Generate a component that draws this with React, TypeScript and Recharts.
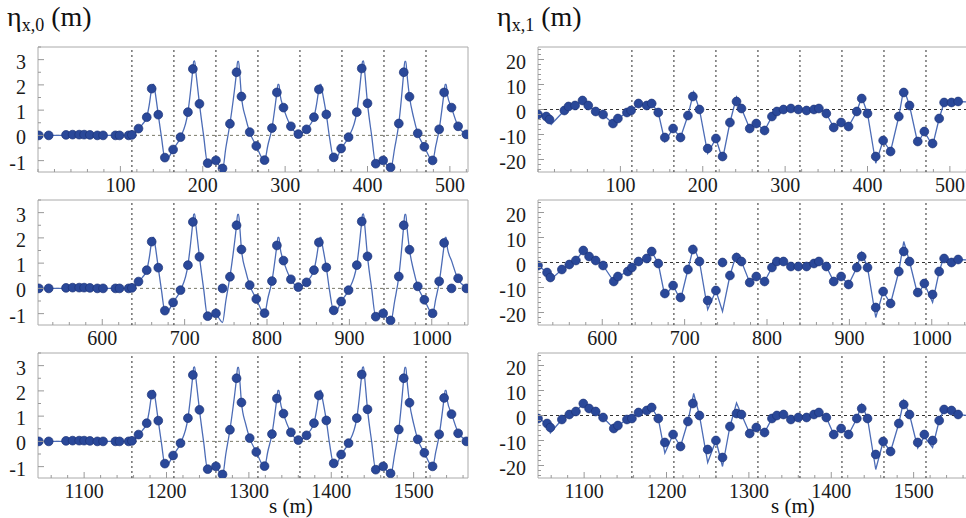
import React from 'react';
import { ComposedChart, Line, Scatter, XAxis, YAxis, ReferenceLine, ReferenceArea } from 'recharts';

type Pair = [number, number];

// ---- data ----
const ROW_START = [0, 522, 1044];
const ROW_SPAN = 522;
const X_TICKS = [
  [100, 200, 300, 400, 500],
  [600, 700, 800, 900, 1000],
  [1100, 1200, 1300, 1400, 1500],
];
const CELL_EDGES = [114, 165, 216, 267, 318, 369, 420, 471];
const ETA0_Y_TICKS = [-1, 0, 1, 2, 3];
const ETA1_Y_TICKS = [-20, -10, 0, 10, 20];
const ETA0_DOMAIN: Pair = [-1.45, 3.5];
const ETA1_DOMAIN: Pair = [-25, 25];

// eta_x,0 measured (points), positions local to each row
const eta0PointsRow1: Pair[] = [
  [1, 0], [13, 0], [34, 0.02], [42, 0.03], [50, 0.03], [56, 0.03], [63, 0.02], [72, 0], [79, 0], [94, 0], [99, 0], [110, 0], [114, 0.02],
  [122, 0.27], [132, 0.72], [138, 1.85], [146, 0.82], [154, -0.88], [164, -0.56], [173, -0.07], [182, 0.92], [188, 2.63], [196, 1.25],
  [206, -1.1], [216, -0.99], [224, -1.31], [233, 0.46], [241, 2.5], [247, 1.54], [257, 0.13], [265, -0.42], [275, -0.98], [284, 0.29],
  [290, 1.7], [298, 1.1], [307, 0.36], [316, 0.05], [326, 0.24], [335, 0.72], [341, 1.82], [350, 0.83], [359, -0.87], [368, -0.52],
  [377, -0.07], [387, 0.92], [393, 2.65], [400, 1.27], [410, -1.12], [419, -0.99], [428, -1.27], [438, 0.47], [444, 2.5], [451, 1.53],
  [461, 0.08], [469, -0.45], [479, -0.99], [487, 0.24], [493, 1.7], [502, 1.1], [510, 0.36], [520, 0.04],
];
const eta0PointsRow2: Pair[] = [
  [1, 0], [13, 0], [34, 0.02], [42, 0.03], [50, 0.03], [56, 0.03], [63, 0.02], [72, 0], [79, 0], [94, 0], [99, 0], [110, 0], [114, 0.02],
  [122, 0.27], [132, 0.72], [138, 1.85], [146, 0.82], [154, -0.88], [164, -0.56], [173, -0.07], [182, 0.92], [188, 2.63], [196, 1.25],
  [206, -1.1], [216, -0.99], [224, 0], [233, 0.46], [241, 2.5], [247, 1.54], [257, 0.13], [265, -0.42], [275, -0.98], [284, 0.29],
  [290, 1.7], [298, 1.1], [307, 0.36], [316, 0.05], [326, 0.24], [335, 0.72], [341, 1.82], [350, 0.83], [359, -0.87], [368, -0.52],
  [377, -0.07], [387, 0.92], [393, 2.65], [400, 1.27], [410, -1.12], [419, -0.99], [428, -1.27], [438, 0.47], [444, 2.5], [451, 1.53],
  [461, 0.08], [469, -0.45], [479, -0.99], [487, 0.28], [493, 1.8], [502, 0], [510, 0.4], [520, 0],
];
const eta0PointsRow3: Pair[] = [
  [1, 0], [13, 0], [34, 0.02], [42, 0.03], [50, 0.03], [56, 0.03], [63, 0.02], [72, 0], [79, 0], [94, 0], [99, 0], [110, 0], [114, 0.02],
  [122, 0.27], [132, 0.72], [138, 1.85], [146, 0.82], [154, -0.88], [164, -0.56], [173, -0.07], [182, 0.92], [188, 2.63], [196, 1.25],
  [206, -1.1], [216, -0.99], [224, -1.31], [233, 0.46], [241, 2.5], [247, 1.54], [257, 0.13], [265, -0.42], [275, -0.98], [284, 0.29],
  [290, 1.7], [298, 1.1], [307, 0.36], [316, 0.05], [326, 0.24], [335, 0.72], [341, 1.82], [350, 0.83], [359, -0.87], [368, -0.52],
  [377, -0.07], [387, 0.92], [393, 2.65], [400, 1.27], [410, -1.12], [419, -0.99], [428, -1.27], [438, 0.47], [444, 2.5], [451, 1.53],
  [461, 0.08], [469, -0.45], [479, -0.99], [487, 0.28], [493, 1.72], [502, 1.08], [510, 0.32], [520, 0],
];
// eta_x,0 model curve
const eta0Model: Pair[] = [
  [0, 0], [114, 0], [118, 0.1], [122, 0.27], [127, 0.45], [132, 0.72], [135, 1.2], [138, 1.85], [139.3, 2.02], [140.5, 2.02], [142, 1.75], [146, 0.82],
  [150, -0.1], [154, -0.9], [157, -0.9], [164, -0.56], [173, -0.07], [182, 0.92], [185, 1.7], [188, 2.63], [189, 2.93], [190.2, 2.95], [191.5, 2.55],
  [196, 1.25], [201, 0], [206, -1.12], [211, -1.1], [216, -0.99], [220, -1.2], [224, -1.35], [228, -0.5], [233, 0.46], [237, 1.4],
  [241, 2.5], [242.3, 2.93], [243.5, 2.93], [245, 2.4], [247, 1.54], [252, 0.7], [257, 0.13], [265, -0.42], [275, -1.0], [279, -0.4], [284, 0.29],
  [290, 1.7], [291.3, 2.02], [292.5, 2.02], [294, 1.6], [298, 1.1], [307, 0.36], [316, 0.05], [322, 0.12],
  [326, 0.27], [331, 0.45], [335, 0.72], [338, 1.2], [341, 1.82], [342.3, 2.02], [343.5, 2.02], [345, 1.75], [350, 0.83], [354, -0.1], [359, -0.9],
  [362, -0.9], [368, -0.52], [377, -0.07], [387, 0.92], [390, 1.7], [393, 2.65], [394, 2.93], [395.2, 2.95], [396.5, 2.55], [400, 1.27], [405, 0],
  [410, -1.12], [415, -1.1], [419, -0.99], [424, -1.2], [428, -1.35], [433, -0.5], [438, 0.47], [441, 1.4], [444, 2.5], [445.3, 2.93], [446.5, 2.93],
  [448, 2.4], [451, 1.53], [456, 0.7], [461, 0.08], [469, -0.45], [479, -1.0], [483, -0.4], [487, 0.24], [493, 1.7], [494.3, 2.02], [495.5, 2.02],
  [497, 1.6], [502, 1.1], [510, 0.36], [520, 0.04], [522, 0],
];

// eta_x,1 measured (points)
const eta1PointsRow1: Pair[] = [
  [0, -2], [10, -2.8], [14, -4], [32, -0.4], [37, 1.2], [45, 1.6], [54, 3.6], [61, 1.6], [70, -0.8], [79, -2], [91, -5.6], [97, -3.6],
  [108, -1.2], [113, -0.4], [122, 2.4], [132, 1.6], [138, 2.4], [146, -1.2], [154, -11.2], [164, -7.6], [173, -11.2], [182, -2.4],
  [188, 5.2], [196, 0], [206, -15.6], [216, -11.6], [224, -18.8], [233, -5.2], [241, 3.2], [247, 0.4], [257, -7.6], [265, -5.6],
  [275, -8.4], [284, -2.8], [290, -0.8], [298, 0], [307, 0.4], [316, 0], [326, -0.4], [335, 0], [341, 0.4], [350, -1.6], [359, -7.2],
  [368, -5.2], [377, -6.8], [387, -0.8], [393, 4.4], [400, -1.6], [410, -18.8], [419, -12.4], [428, -16.8], [438, -2.8], [444, 6.8],
  [451, 1.6], [461, -12.8], [469, -8.8], [479, -13.6], [487, -3.6], [493, 2.8], [502, 2.8], [510, 3.2],
];
const eta1PointsRow2: Pair[] = [
  [0, -1.2], [11, -4], [15, -6], [29, -2.8], [38, -0.8], [46, 0.8], [55, 4.8], [62, 2.4], [70, 0.8], [79, -1.2], [92, -7.6], [97, -5.6],
  [109, -3.6], [114, -2], [122, 0.4], [132, 1.6], [138, 4.4], [146, -0.4], [154, -12.4], [164, -9.2], [173, -14], [182, -2.8],
  [188, 5.2], [196, 0.4], [206, -15.2], [216, -11.2], [224, 0], [233, -5.2], [241, 2], [247, 0.4], [257, -8], [265, -5.6],
  [275, -7.6], [284, -2], [290, 0.4], [298, 0.4], [307, -1.6], [316, -1.6], [326, -1.6], [335, -0.4], [341, 0.4], [350, -1.6],
  [359, -7.6], [368, -5.6], [377, -8.8], [387, -2], [393, 2.4], [400, -2], [410, -18], [419, -11.6], [428, -16.4], [438, -3.6],
  [444, 4.4], [451, 0.4], [461, -12], [469, -8.4], [479, -12.8], [487, -3.6], [493, 1.6], [502, 0], [510, 1.2],
];
const eta1PointsRow3: Pair[] = [
  [0, -1.2], [11, -3.2], [15, -4.8], [29, -1.6], [38, 0.4], [46, 1.6], [55, 4.8], [62, 2.8], [70, 1.6], [79, -0.8], [92, -5.2], [97, -4],
  [108, -1.6], [114, -1.2], [122, 1.2], [132, 2], [138, 3.2], [146, -1.2], [154, -10.8], [164, -7.6], [173, -12.4], [182, -2.4],
  [188, 4.8], [196, 0], [206, -13.6], [216, -10], [224, -16.8], [233, -4.4], [241, 0.8], [247, 0.4], [257, -7.2], [265, -4.8],
  [275, -6.8], [284, -1.2], [290, 0], [298, 0.4], [307, -1.6], [316, -0.8], [326, -0.8], [335, 0.4], [341, 1.2], [350, -0.8],
  [359, -7.6], [368, -5.2], [377, -7.6], [387, -1.2], [393, 2.8], [400, -1.2], [410, -15.6], [419, -10.4], [428, -14.4], [438, -3.2],
  [444, 4.4], [451, 0.4], [461, -10.8], [469, -7.6], [479, -10], [487, -2], [493, 2.4], [502, 2], [510, 0.4],
];
// eta_x,1 model curves
const eta1ModelRow1: Pair[] = [
  [0, -2], [10, -3], [16, -6], [32, -0.4], [37, 1.2], [45, 1.6], [54, 3.6], [61, 1.6], [70, -0.8], [79, -2], [91, -5.6], [97, -3.6],
  [108, -1.2], [114, -0.4], [122, 2.4], [132, 1.6], [138, 2.4], [146, -1.2], [154, -12.8], [164, -7.6], [173, -11.2], [182, -2.4],
  [189, 7], [196, 0], [206, -17.5], [216, -11.6], [224, -20], [233, -5.2], [241, 5], [247, 0.4], [257, -7.6], [265, -5.6], [275, -8.4],
  [284, -2.8], [290, -0.8], [298, 0], [307, 0.4], [316, 0], [326, -0.4], [335, 0], [341, 0.4], [350, -1.6], [359, -7.2], [368, -5.2],
  [377, -6.8], [387, -0.8], [393, 5], [400, -1.6], [410, -21.5], [419, -12.4], [428, -16.8], [438, -2.8], [444, 8.4], [451, 1.6],
  [461, -13.5], [469, -8.8], [479, -14.5], [487, -3.6], [493, 2.8], [502, 2.8], [510, 3.2], [522, 3],
];
const eta1ModelRow2: Pair[] = [
  [0, -1.2], [11, -4], [15, -7], [29, -2.8], [38, -0.8], [46, 0.8], [55, 4.8], [62, 2.4], [70, 0.8], [79, -1.2], [92, -7.6], [97, -5.6],
  [109, -3.6], [114, -2], [122, 0.4], [132, 1.6], [138, 4.4], [146, -0.4], [154, -13.5], [164, -9.2], [173, -15], [182, -2.8],
  [189, 6.5], [196, 0.4], [206, -18.8], [216, -11.2], [224, -19.6], [233, -5.2], [241, 3.5], [247, 0.4], [257, -8], [265, -5.6],
  [275, -7.6], [284, -2], [290, 0.4], [298, 0.4], [307, -1.6], [316, -1.6], [326, -1.6], [335, -0.4], [341, 0.4], [350, -1.6],
  [359, -7.6], [368, -5.6], [377, -8.8], [387, -2], [393, 4], [400, -2], [410, -22], [419, -11.6], [428, -16.4], [438, -3.6],
  [444, 8.4], [451, 0.4], [461, -13], [469, -8.4], [479, -16], [487, -3.6], [493, 2.5], [502, 0.5], [510, 1.2], [522, 1],
];
const eta1ModelRow3: Pair[] = [
  [0, -1.2], [11, -3.2], [15, -7], [29, -1.6], [38, 0.4], [46, 1.6], [55, 4.8], [62, 2.8], [70, 1.6], [79, -0.8], [92, -5.2], [97, -4],
  [108, -1.6], [114, -1.2], [122, 1.2], [132, 2], [138, 3.2], [146, -1.2], [154, -15], [164, -7.6], [173, -12.4], [182, -2.4],
  [189, 8.8], [196, 0], [206, -18.8], [216, -10], [224, -20.4], [233, -4.4], [241, 5], [247, 0.4], [257, -7.2], [265, -4.8],
  [275, -6.8], [284, -1.2], [290, 0], [298, 0.4], [307, -1.6], [316, -0.8], [326, -0.8], [335, 0.4], [341, 1.2], [350, -0.8],
  [359, -7.6], [368, -5.2], [377, -7.6], [387, -1.2], [393, 4.5], [400, -1.2], [410, -21.6], [419, -10.4], [428, -14.4], [438, -3.2],
  [444, 6], [451, 0.4], [461, -13], [469, -8.5], [479, -12.8], [487, -2], [493, 2.4], [502, 2], [510, 0.4], [522, 0],
];

// ---- styling ----
const SERIF = '"Liberation Serif", "Times New Roman", Times, serif';
const POINT_FILL = '#2a4899';
const POINT_STROKE = '#1c3478';
const LINE_COLOR = '#4c6cb6';
const FRAME = '#aaaaaa';

const PLOT_W = 430;
const PLOT_H = 125;
const Y_AXIS_W = 40;
const X_AXIS_H = 40;
const M = { top: 10, right: 14, bottom: 0, left: 0 };
const TICK_FONT = 20;

function range(a: number, b: number, step: number): number[] {
  const out: number[] = [];
  for (let v = a; v <= b + 1e-9; v += step) out.push(Math.round(v * 1000) / 1000);
  return out;
}

const Dot = (p: any) => {
  if (p.cx == null || p.cy == null) return null;
  return <circle cx={p.cx} cy={p.cy} r={4.4} fill={POINT_FILL} stroke={POINT_STROKE} strokeWidth={0.7} />;
};

const makeXTick = (majors: number[]) => (p: any) => {
  const v = p.payload?.value;
  const isMajor = majors.includes(v);
  return (
    <g>
      <line x1={p.x} x2={p.x} y1={p.y} y2={p.y - (isMajor ? 6 : 3)} stroke="#999" strokeWidth={1} />
      {isMajor && (
        <text x={p.x} y={p.y + 6} dy="0.71em" textAnchor="middle" fontSize={TICK_FONT} fontFamily={SERIF} fill="#1a1a1a">
          {v}
        </text>
      )}
    </g>
  );
};

const makeYTick = (majors: number[]) => (p: any) => {
  const v = p.payload?.value;
  const isMajor = majors.includes(v);
  return (
    <g>
      <line x1={p.x} x2={p.x + (isMajor ? 6 : 3)} y1={p.y} y2={p.y} stroke="#999" strokeWidth={1} />
      {isMajor && (
        <text x={p.x - 12} y={p.y + 2} dy="0.355em" textAnchor="end" fontSize={TICK_FONT} fontFamily={SERIF} fill="#1a1a1a">
          {v}
        </text>
      )}
    </g>
  );
};

type PanelProps = {
  plotLeft: number;
  plotTop: number;
  row: number;
  points: Pair[];
  model: Pair[];
  modelType: 'monotone' | 'linear';
  yDomain: Pair;
  yTicks: number[];
  yMinorStep: number;
  zeroColor: string;
};

function Panel(props: PanelProps) {
  const { plotLeft, plotTop, row, points, model, modelType, yDomain, yTicks, yMinorStep, zeroColor } = props;
  const x0 = ROW_START[row];
  const x1 = x0 + ROW_SPAN;
  const pts = points.map(([s, v]) => ({ s: s + x0, v }));
  const ln = model.map(([s, v]) => ({ s: s + x0, v }));
  const allX = range(Math.ceil(x0 / 20) * 20, x1, 20);
  const allY = range(Math.ceil(yDomain[0] / yMinorStep) * yMinorStep, yDomain[1], yMinorStep);
  return (
    <div style={{ position: 'absolute', left: plotLeft - Y_AXIS_W, top: plotTop - M.top }}>
      <ComposedChart width={PLOT_W + Y_AXIS_W + M.right} height={PLOT_H + M.top + X_AXIS_H} margin={M}>
        <XAxis
          dataKey="s"
          type="number"
          domain={[x0, x1]}
          allowDataOverflow
          ticks={allX}
          height={X_AXIS_H}
          axisLine={false}
          tickLine={false}
          tickSize={0}
          tickMargin={0}
          tick={makeXTick(X_TICKS[row])}
          interval={0}
        />
        <YAxis
          type="number"
          domain={yDomain}
          allowDataOverflow
          ticks={allY}
          width={Y_AXIS_W}
          axisLine={false}
          tickLine={false}
          tickSize={0}
          tickMargin={0}
          tick={makeYTick(yTicks)}
          interval={0}
        />
        <ReferenceArea x1={x0} x2={x1} y1={yDomain[0]} y2={yDomain[1]} fill="none" stroke={FRAME} strokeWidth={1} ifOverflow="visible" />
        {CELL_EDGES.map((e) => (
          <ReferenceLine key={e} x={e + x0} stroke="#2a2a2a" strokeWidth={1} strokeDasharray="2 3" ifOverflow="visible" />
        ))}
        <ReferenceLine y={0} stroke={zeroColor} strokeWidth={1} strokeDasharray="3 3" />
        <Line data={ln} dataKey="v" type={modelType} stroke={LINE_COLOR} strokeWidth={1.3} dot={false} isAnimationActive={false} />
        <Scatter data={pts} dataKey="v" shape={Dot} isAnimationActive={false} />
      </ComposedChart>
    </div>
  );
}

const LEFT_X = 38;
const RIGHT_X = 538;
const ROW_TOPS = [47, 200, 353];

const eta0Points = [eta0PointsRow1, eta0PointsRow2, eta0PointsRow3];
const eta1Points = [eta1PointsRow1, eta1PointsRow2, eta1PointsRow3];
const eta1Models = [eta1ModelRow1, eta1ModelRow2, eta1ModelRow3];

export default function App() {
  return (
    <div style={{ position: 'absolute', left: 0, top: 0, width: 966, height: 518, background: '#fff', overflow: 'hidden', fontFamily: SERIF }}>
      <div style={{ position: 'absolute', left: 7, top: 1, fontSize: 28, color: '#111', whiteSpace: 'nowrap', lineHeight: '32px' }}>
        η<sub style={{ fontSize: 18, verticalAlign: '-5px' }}>x,0</sub> (m)
      </div>
      <div style={{ position: 'absolute', left: 497, top: 1, fontSize: 28, color: '#111', whiteSpace: 'nowrap', lineHeight: '32px' }}>
        η<sub style={{ fontSize: 18, verticalAlign: '-5px' }}>x,1</sub> (m)
      </div>
      {ROW_TOPS.map((t, r) => (
        <Panel
          key={'l' + r}
          plotLeft={LEFT_X}
          plotTop={t}
          row={r}
          points={eta0Points[r]}
          model={eta0Model}
          modelType="monotone"
          yDomain={ETA0_DOMAIN}
          yTicks={ETA0_Y_TICKS}
          yMinorStep={0.5}
          zeroColor="#7a7a6a"
        />
      ))}
      {ROW_TOPS.map((t, r) => (
        <Panel
          key={'r' + r}
          plotLeft={RIGHT_X}
          plotTop={t}
          row={r}
          points={eta1Points[r]}
          model={eta1Models[r]}
          modelType="linear"
          yDomain={ETA1_DOMAIN}
          yTicks={ETA1_Y_TICKS}
          yMinorStep={2}
          zeroColor="#333333"
        />
      ))}
      <div style={{ position: 'absolute', left: 269, top: 495, fontSize: 21, lineHeight: '22px', color: '#111', whiteSpace: 'nowrap' }}>s (m)</div>
      <div style={{ position: 'absolute', left: 771, top: 495, fontSize: 21, lineHeight: '22px', color: '#111', whiteSpace: 'nowrap' }}>s (m)</div>
    </div>
  );
}
